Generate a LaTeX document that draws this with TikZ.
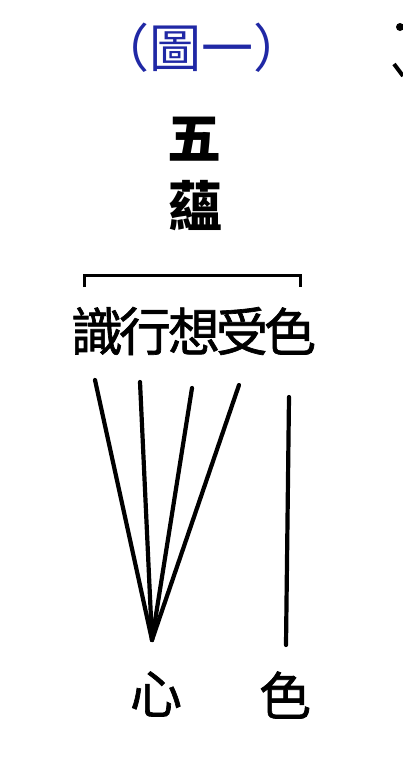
\documentclass[tikz,border=0pt]{standalone}
\usepackage{fontspec}
\newfontfamily\cjk{Noto Sans CJK TC}
\newfontfamily\cjkm[FakeBold=1.3]{Noto Sans CJK TC}
\definecolor{tublue}{RGB}{32,40,165}
\begin{document}
\begin{tikzpicture}[x=1pt,y=-1pt,
    zi/.style={inner sep=0pt, font=\cjkm\fontsize{52}{52}\selectfont},
    xian/.style={line width=4.2pt, line cap=round}]
\useasboundingbox[fill=white] (0,0) rectangle (403,774);
% title
\node[zi, text=tublue, font=\cjk\fontsize{52}{52}\selectfont] (tuyi) at (201,48) {（圖一）};
% fragment at the right edge
\fill (400,27) circle (4);
\draw[line width=4pt] (394,64) -- (403,76);
\node[zi, font=\cjk\bfseries\fontsize{54}{54}\selectfont] (wu) at (194,139) {五};
\node[zi, font=\cjk\bfseries\fontsize{54}{54}\selectfont] (yun) at (195,206) {蘊};
% bracket
\draw[line width=3pt] (84,287) -- (84,275) -- (300,275) -- (300,287);
\node[zi] (shi) at (97,331) {識};
\node[zi] (xing) at (145,331) {行};
\node[zi] (xiang) at (194,331) {想};
\node[zi] (shou) at (242,331) {受};
\node[zi] (se) at (290,331) {色};
\coordinate (shitop) at (95,380);
\coordinate (xingtop) at (140,382);
\coordinate (xiangtop) at (192,388);
\coordinate (shoutop) at (239,385);
\coordinate (setop) at (289,397);
\coordinate (jian) at (152,640);
\coordinate (sebot) at (286,645);
\draw[xian] (shitop) -- (jian);
\draw[xian] (xingtop) -- (jian);
\draw[xian] (xiangtop) -- (jian);
\draw[xian] (shoutop) -- (jian);
\draw[xian] (setop) -- (sebot);
\node[zi] (xin) at (156,694) {心};
\node[zi] (se2) at (285,695) {色};
\end{tikzpicture}
\end{document}
